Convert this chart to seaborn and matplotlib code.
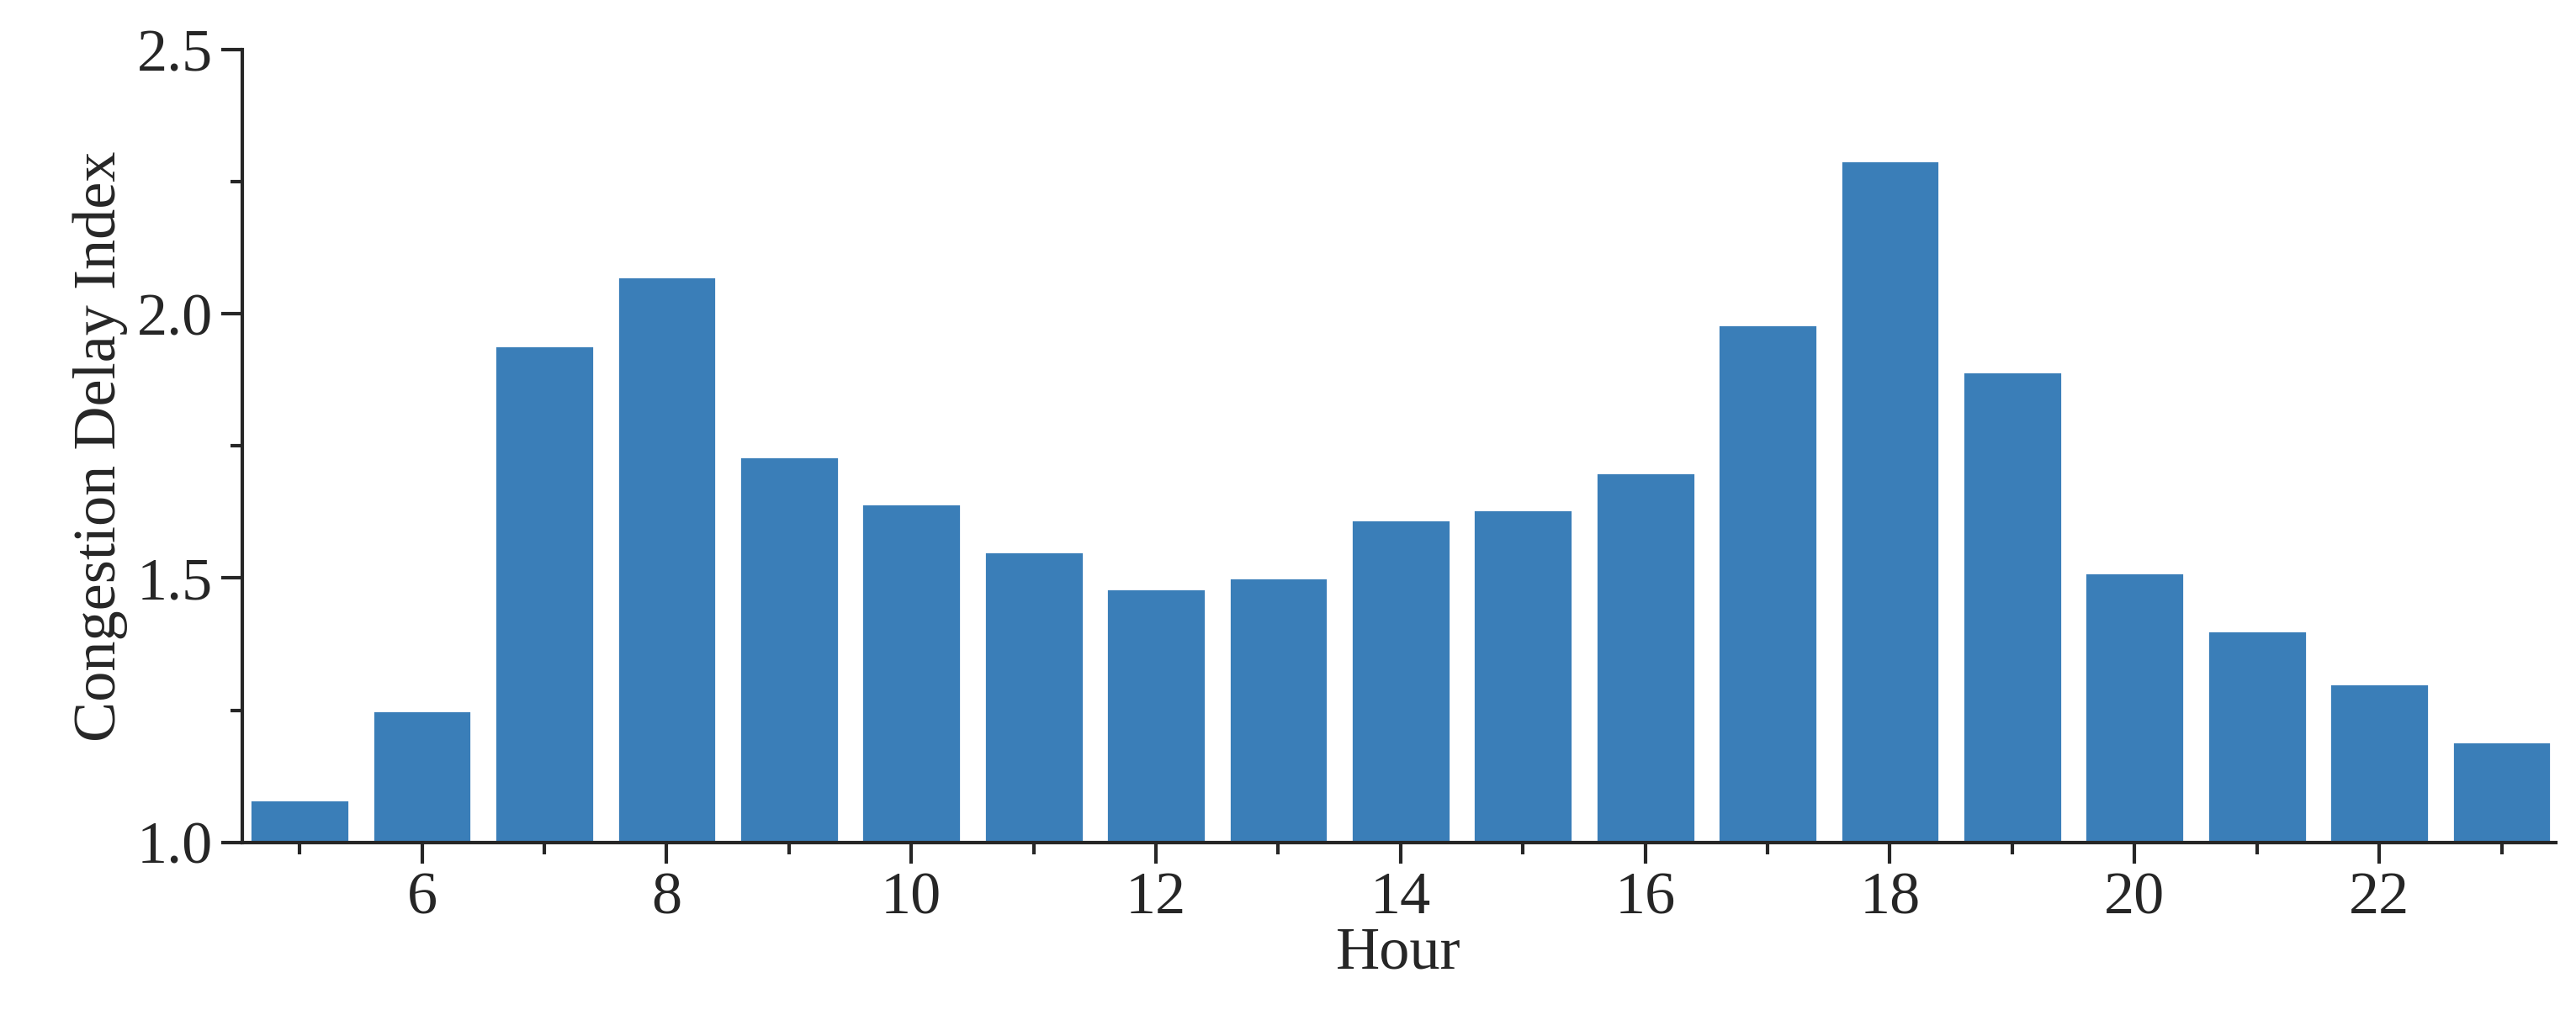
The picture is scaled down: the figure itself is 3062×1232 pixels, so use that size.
import matplotlib
matplotlib.use("Agg")
import matplotlib.pyplot as plt
from matplotlib.ticker import MultipleLocator
import seaborn as sns
import pandas as pd

hours = list(range(5, 24))
delay_index = [1.08, 1.25, 1.94, 2.07, 1.73, 1.64, 1.55, 1.48, 1.50, 1.61,
               1.63, 1.70, 1.98, 2.29, 1.89, 1.51, 1.40, 1.30, 1.19]

df = pd.DataFrame({"Hour": hours, "Index": delay_index})

sns.set_style("ticks")
plt.rcParams["font.family"] = ["Liberation Serif", "DejaVu Serif"]

fig = plt.figure(figsize=(15.31, 6.16), dpi=200)
ax = fig.add_axes([0.094, 0.187, 0.898, 0.765])
sns.barplot(data=df, x="Hour", y="Index", native_scale=True, width=0.81,
            color="#3a7eb8", saturation=1, ax=ax)

ax.set_xlim(4.53, 23.44)
ax.set_ylim(1.0, 2.5)
ax.xaxis.set_major_locator(MultipleLocator(2))
ax.xaxis.set_minor_locator(MultipleLocator(1))
ax.yaxis.set_major_locator(MultipleLocator(0.5))
ax.yaxis.set_minor_locator(MultipleLocator(0.25))
ax.tick_params(which="major", length=9, width=1.5, labelsize=26, direction="out")
ax.tick_params(which="minor", length=5, width=1.5, direction="out")
ax.set_xticks(range(6, 24, 2))
ax.yaxis.set_major_formatter(matplotlib.ticker.FormatStrFormatter("%.1f"))
ax.set_xlabel("Hour", fontsize=26, labelpad=0)
ax.set_ylabel("Congestion Delay Index", fontsize=26)
for s in ["left", "bottom"]:
    ax.spines[s].set_linewidth(1.5)
sns.despine(ax=ax)

fig.savefig("out.png", dpi=200)
